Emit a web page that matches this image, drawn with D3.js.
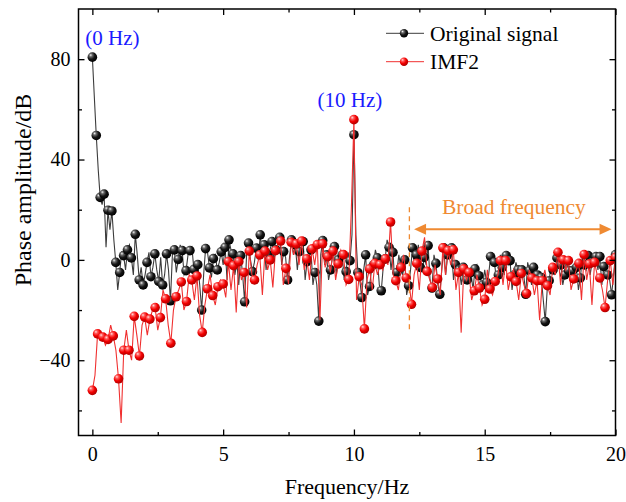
<!DOCTYPE html>
<html><head><meta charset="utf-8">
<script src="https://cdn.jsdelivr.net/npm/d3@7"></script>
<style>
body{margin:0;background:#fff}
text{font-family:"Liberation Serif","Times New Roman",Times,serif}
</style>
</head><body>
<svg id="chart" width="626" height="502"></svg>
<script>
// ---------------- DATA ----------------
// Original signal: marker values (every 10/67 Hz) and line values between markers
const origMarkers = [80.8,49.6,24.9,26.2,19.8,19.5,-1,-5,1.7,4,0.8,10.2,-8,-10,-1,-6.7,2.4,-8.6,-10,2.4,
 -16.3,4,0.2,3.7,-4.3,3.7,-3.8,-1.9,-20,4.5,-3.2,0.5,-4,3.2,5,8,2.4,-1,1.7,-16.7,
 6.7,-4.7,4.7,10,6,2,7.3,4,9,3.3,-8,8,6,3.3,7.3,-0.7,4,-5,-24.4,7.7,
 2,-4,5.3,0,2,-4.7,-0.3,49.9,-5,-15,2,-10.6,-2,0.8,-12.3,0.4,5,3,-5,-3,
 0,-10.3,4.8,2,-3,1,5.7,-11.2,-1.4,-13.7,4.8,2,4.8,-1.9,-4,-3,-8,-5,-3.6,-6.3,
 -10,-9,1.3,-1,-6,-3,1.7,-0.3,-6,-4,-4,-13.7,-4.3,-3,-6,-7,-24.6,-8.3,-4,0.8,
 -2,-6,-4.3,-4.3,-3,-7.2,-2,1.7,-1,1.3,1.3,-2.7,-6,-13.9,2.1];
const origMids = [65,36,22,5,12,8,-12,3,-4,6,-6,2,-3,-6,3,-3,-4,1,-6,-4,
 2,-5,6,-6,2,5,-8,-10,-6,3,-7,2,-1,-2,-8,4,-6,-10,-6,2,
 0,-1,0,3,-4,4,0,6,-2,1,1,2,-4,5,-8,1,-10,-10,2,-2,
 -8,1,-6,3,-8,3,10,10,-8,-4,-14,-4,4,-10,-3,8,-4,-10,2,-6,
 -14,-4,-2,6,-5,-2,-8,2,-10,-4,-6,1,-8,-2,-10,-2,-6,-12,-2,-8,
 -4,-6,0,-8,2,-6,-2,-12,-1,-8,-6,-1,-10,-2,-10,-16,-12,-2,-6,2,
 -10,-1,-8,-2,-12,1,-4,-6,2,-4,-10,-4,-8,-6];
// IMF2: marker values (every 0.2 Hz) and line values between markers
const imfMarkers = [-52,-29.5,-30.8,-31.7,-30.3,-47.4,-36,-36,-22.5,-38.3,-22.8,-23.6,-19,-23,-15.5,-33.2,-14.7,-8.8,-16.6,-8,
 -6.4,-28.9,-11.5,-14.2,-10.7,-9.6,-0.7,-2.3,-0.7,-5,3.5,-8,2,3.5,0,3.7,7.5,-3.4,7,6.4,
 7.5,0.4,4.4,6.1,6.4,1.3,3.5,-1.6,2.1,-7.8,55.9,-6.7,-27.5,-3.6,-1.4,-1.9,0.4,15.1,-8.3,-3,
 -7.2,-17.7,-1.4,3.5,-4.6,-11,-7.6,4.8,3.7,4,-5,-3.6,-5,-12.3,-11.2,-15.7,-11.6,-8.6,-0.3,-0.3,
 -6.7,-8.6,-5.4,-13.4,-7.2,-8.3,-8.3,-10.3,-3,3,0,-0.3,-7.6,-1.4,2.1,-1.6,-1,-7.2,-19,-0.3,1];
const imfMids = [-46,-32,-34,-26,-36,-65,-28,-40,-30,-26,-30,-20,-28,-12,-26,-20,-12,-20,-6,-16,
 -22,-18,-6,-18,-8,-15,-12,-21,-8,-19,-6,-2,-14,-4,-11,6,-10,-9.6,2,-2,
 -4,-8,-2,-24,-3,-5,-8,4,-10,20,-16,-10,-8,-12,-6,-4,-2,-6,-12,2,
 -8,-6,-12,9,-8,-2,-14,-6,-2,-12,-29,-8,-16,-6,-18,-4,-14,-6,-10,-12,
 -4,-16,-10,-4,-14,-24,-4,-14,-6,-10,-4,-12,-4,-16,-8,-18,-6,-12,-8,-10];
const origStep = 10/67;   // Hz between Original-signal markers
const imfStep = 0.2;      // Hz between IMF2 markers
const xTicks = [0,5,10,15,20];
const xMinor = [2.5,7.5,12.5,17.5];
const yTicks = [-40,0,40,80];
const yMinor = [-60,-20,20,60];
const seriesNames = ["Original signal","IMF2"];
const peakLabels = [{f:0,v:80.8,t:"(0 Hz)"},{f:10,v:55.9,t:"(10 Hz)"}];
const broadBand = [12.3,19.85];
const broadLabel = "Broad frequency";
const dashFreq = 12.12, dashRange = [21,-28];

// --------------- BUILD SERIES ---------------
function build(markers, mids, step){
  const line=[], pts=[];
  markers.forEach((v,i)=>{
    pts.push({f:i*step,v});
    line.push({f:i*step,v});
    if(i<mids.length) line.push({f:(i+0.5)*step,v:mids[i]});
  });
  return {line,pts};
}
const orig = build(origMarkers, origMids, origStep);
const imf = build(imfMarkers, imfMids, imfStep);

// --------------- CHART ---------------
const svg = d3.select("#chart");
const L=78.5, R=615.5, T=9, B=435.5;
const x = d3.scaleLinear().domain([-0.53,20]).range([L,R]);
const y = d3.scaleLinear().domain([-70,100]).range([B,T]);

const defs = svg.append("defs");
function grad(id, stops){
  const g = defs.append("radialGradient").attr("id",id)
    .attr("cx","38%").attr("cy","35%").attr("r","65%").attr("fx","32%").attr("fy","28%");
  stops.forEach(s=>g.append("stop").attr("offset",s[0]).attr("stop-color",s[1]));
}
grad("gBlack",[["0%","#f4f4f4"],["25%","#6a6a6a"],["60%","#151515"],["100%","#000"]]);
grad("gRed",[["0%","#ffe0e0"],["25%","#ff5a5a"],["60%","#f20000"],["100%","#b00000"]]);

const clip = defs.append("clipPath").attr("id","clip");
clip.append("rect").attr("x",L).attr("y",T).attr("width",R-L).attr("height",B-T);

const lineGen = d3.line().x(d=>x(d.f)).y(d=>y(d.v));
const plot = svg.append("g").attr("clip-path","url(#clip)");

// Original signal
plot.append("path").datum(orig.line).attr("d",lineGen)
  .attr("fill","none").attr("stroke","#3c3c3c").attr("stroke-width",1.1);
plot.append("g").selectAll("circle").data(orig.pts).join("circle")
  .attr("cx",d=>x(d.f)).attr("cy",d=>y(d.v)).attr("r",4.8).attr("fill","url(#gBlack)");
// IMF2
plot.append("path").datum(imf.line).attr("d",lineGen)
  .attr("fill","none").attr("stroke","#f03030").attr("stroke-width",1.1);
plot.append("g").selectAll("circle").data(imf.pts).join("circle")
  .attr("cx",d=>x(d.f)).attr("cy",d=>y(d.v)).attr("r",4.8).attr("fill","url(#gRed)");

// Axes (ticks inward)
function styleAxis(g){
  g.select(".domain").remove();
  g.selectAll(".tick line").attr("stroke","#000").attr("stroke-width",1.3);
  g.selectAll("text").attr("font-size","20px").attr("fill","#000")
    .style("font-family",'"Liberation Serif","Times New Roman",serif');
}
svg.append("g").attr("transform",`translate(0,${B})`)
  .call(d3.axisBottom(x).tickValues(xTicks).tickFormat(d3.format("d")).tickSize(-6).tickPadding(11)).call(styleAxis);
svg.append("g").attr("transform",`translate(0,${B})`)
  .call(d3.axisBottom(x).tickValues(xMinor).tickFormat("").tickSize(-3.5)).call(styleAxis);
svg.append("g").attr("transform",`translate(0,${T})`)
  .call(d3.axisTop(x).tickValues(xTicks).tickFormat("").tickSize(-6)).call(styleAxis);
svg.append("g").attr("transform",`translate(0,${T})`)
  .call(d3.axisTop(x).tickValues(xMinor).tickFormat("").tickSize(-3.5)).call(styleAxis);
svg.append("g").attr("transform",`translate(${L},0)`)
  .call(d3.axisLeft(y).tickValues(yTicks).tickSize(-6).tickPadding(8)).call(styleAxis);
svg.append("g").attr("transform",`translate(${L},0)`)
  .call(d3.axisLeft(y).tickValues(yMinor).tickFormat("").tickSize(-3.5)).call(styleAxis);
svg.append("g").attr("transform",`translate(${R},0)`)
  .call(d3.axisRight(y).tickValues(yTicks).tickFormat("").tickSize(-6)).call(styleAxis);
svg.append("g").attr("transform",`translate(${R},0)`)
  .call(d3.axisRight(y).tickValues(yMinor).tickFormat("").tickSize(-3.5)).call(styleAxis);

svg.append("rect").attr("x",L).attr("y",T).attr("width",R-L).attr("height",B-T)
  .attr("fill","none").attr("stroke","#000").attr("stroke-width",1.5);

// Axis titles
svg.append("text").attr("x",347).attr("y",494).attr("text-anchor","middle")
  .attr("font-size","22px").text("Frequency/Hz");
svg.append("text").attr("transform","translate(31,190) rotate(-90)").attr("text-anchor","middle")
  .attr("font-size","24px").text("Phase amplitude/dB");

// Peak labels
svg.append("text").attr("x",x(peakLabels[0].f)-7).attr("y",44.5).attr("font-size","21px")
  .attr("fill","#1a1aff").text(peakLabels[0].t);
svg.append("text").attr("x",x(peakLabels[1].f)-4).attr("y",107).attr("text-anchor","middle")
  .attr("font-size","21px").attr("fill","#1a1aff").text(peakLabels[1].t);

// Broad frequency annotation
const orange="#ef8a32";
svg.append("line").attr("x1",x(dashFreq)).attr("x2",x(dashFreq))
  .attr("y1",y(dashRange[0])).attr("y2",y(dashRange[1]))
  .attr("stroke",orange).attr("stroke-width",1.3).attr("stroke-dasharray","5,4");
const ay = 229.3, xa = x(broadBand[0]), xb = x(broadBand[1]);
svg.append("line").attr("x1",xa+8).attr("x2",xb-8).attr("y1",ay).attr("y2",ay)
  .attr("stroke",orange).attr("stroke-width",2);
svg.append("path").attr("d",`M${xa},${ay} L${xa+12},${ay-5.5} L${xa+12},${ay+5.5} Z`).attr("fill",orange);
svg.append("path").attr("d",`M${xb},${ay} L${xb-12},${ay-5.5} L${xb-12},${ay+5.5} Z`).attr("fill",orange);
svg.append("text").attr("x",(xa+xb)/2+1).attr("y",214).attr("text-anchor","middle")
  .attr("font-size","21.5px").attr("fill",orange).text(broadLabel);

// Legend
const leg = svg.append("g");
[["#3c3c3c","url(#gBlack)",33.3,41],["#f03030","url(#gRed)",61.7,69]].forEach((s,i)=>{
  leg.append("line").attr("x1",386).attr("x2",424).attr("y1",s[2]).attr("y2",s[2])
    .attr("stroke",s[0]).attr("stroke-width",1);
  leg.append("circle").attr("cx",404).attr("cy",s[2]).attr("r",4.2).attr("fill",s[1]);
  leg.append("text").attr("x",430).attr("y",s[3]).attr("font-size","21.5px").text(seriesNames[i]);
});
</script>
</body></html>
